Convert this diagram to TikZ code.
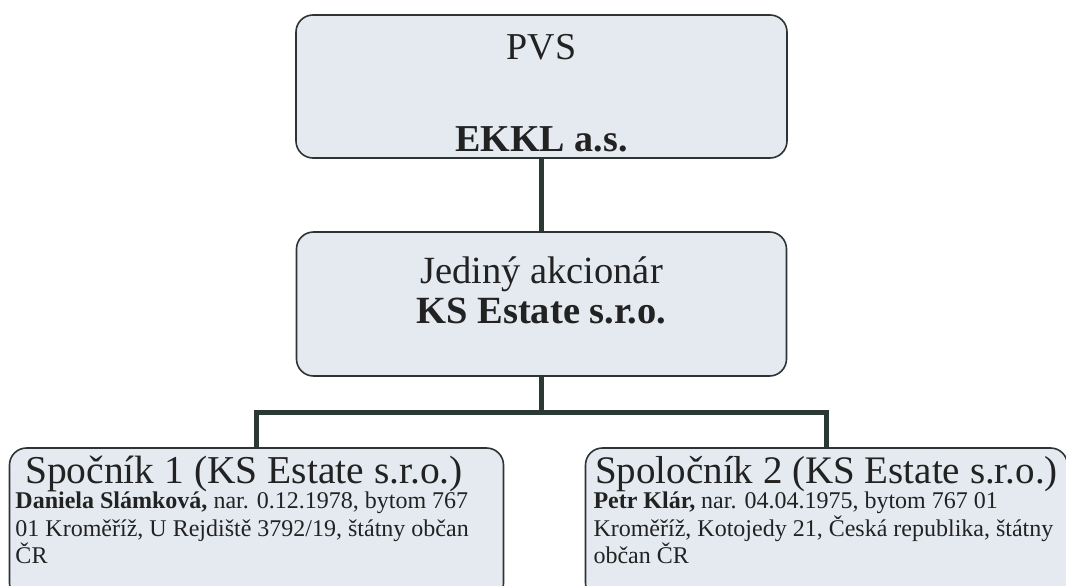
\documentclass[tikz,border=0pt]{standalone}
\usepackage{fontspec}
\setmainfont{Liberation Serif}
\definecolor{boxfill}{HTML}{E4EAF0}
\definecolor{boxline}{HTML}{2E3434}
\definecolor{connline}{HTML}{2B3834}
\definecolor{textcol}{HTML}{222222}

\begin{document}
\begin{tikzpicture}[x=1pt, y=1pt,
        orgbox/.style={draw=boxline, line width=1.6pt, fill=boxfill, rounded corners=17pt, text=textcol, inner sep=0pt},
        conn/.style={draw=connline, line width=5pt},
        level 1/.style={level distance=217.5pt},
        level 2/.style={level distance=220pt, sibling distance=570pt, xshift=-2.5pt},
        edge from parent/.style={draw=none}]
    \useasboundingbox (0,0) rectangle (1066,-586);
    \clip (0,0) rectangle (1066,-586);
    \node [orgbox, minimum width=491pt, minimum height=143pt, align=center, font=\fontsize{38}{40}\selectfont] (pvs) at (541.5,-86.5)
        {\rule{0pt}{39pt}PVS\\[52pt]\textbf{EKKL a.s.}}
        child {node [orgbox, minimum width=490pt, minimum height=144pt, align=center, font=\fontsize{38.5}{39.5}\selectfont] (akcionar)
            {Jediný akcionár\\\textbf{KS Estate s.r.o.}\rule[-28pt]{0pt}{28pt}}
            child {node [orgbox, inner xsep=6pt, inner ysep=2pt] (spol1)
                {\parbox[c][148pt][t]{482pt}{\fontsize{24}{27.5}\selectfont\raggedright
                    {\fontsize{39.5}{44}\selectfont\rule{0pt}{33pt}\hfill Spočník 1 (KS Estate s.r.o.)\hfill\hspace{25pt}\null\\[-2pt]}
                    \textbf{Daniela Slámková,} nar. 0.12.1978, bytom 767\\
                    01 Kroměříž, U Rejdiště 3792/19, štátny občan\\
                    ČR}}}
            child {node [orgbox, inner xsep=8pt, inner ysep=2pt] (spol2)
                {\parbox[c][148pt][t]{466pt}{\fontsize{24}{27.5}\selectfont\raggedright
                    {\fontsize{39}{44}\selectfont\rule{0pt}{33pt}\hfill Spoločník 2 (KS Estate s.r.o.)\hfill\null\\[-2pt]}
                    \textbf{Petr Klár,} nar. 04.04.1975, bytom 767 01\\
                    Kroměříž, Kotojedy 21, Česká republika, štátny\\
                    občan ČR}}}
        };
    \draw [conn] (pvs) -- (akcionar);
    \draw [conn] (akcionar.south) -- ++(0,-36) coordinate (rozcestie);
    \draw [conn] (spol1.north) |- (rozcestie) -| (spol2.north);
\end{tikzpicture}
\end{document}
